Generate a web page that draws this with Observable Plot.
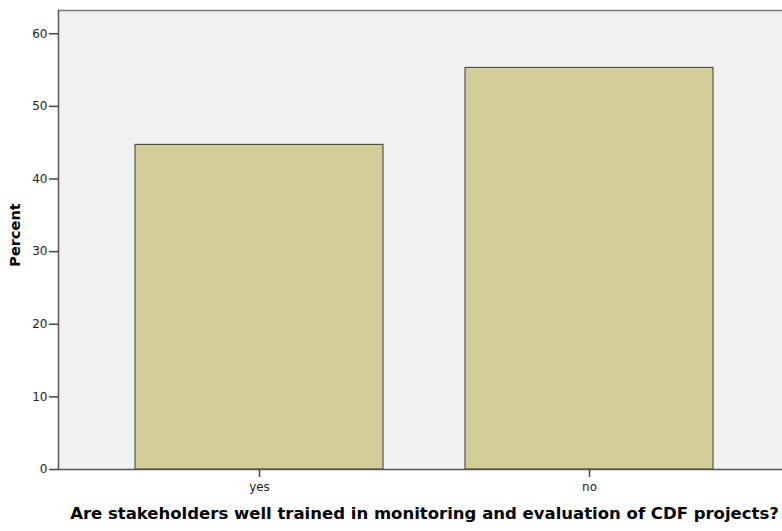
<!DOCTYPE html>
<html>
<head>
<meta charset="utf-8">
<script src="https://cdn.jsdelivr.net/npm/d3@7"></script>
<script src="https://cdn.jsdelivr.net/npm/@observablehq/plot@0.6"></script>
<style>
  html, body { margin: 0; padding: 0; background: #ffffff; overflow: hidden; }
  #chart svg { display: block; overflow: hidden; }
</style>
</head>
<body>
<div id="chart"></div>
<script>
const categories = ["yes", "no"];
const percents = [44.7, 55.3];
const yTicks = [0, 10, 20, 30, 40, 50, 60];
const yLabel = "Percent";
const xLabel = "Are stakeholders well trained in monitoring and evaluation of CDF projects?";

const data = categories.map((c, i) => ({category: c, percent: percents[i]}));
const yTop = 63.2;

const chart = Plot.plot({
  width: 782,
  height: 531,
  marginLeft: 58,
  marginRight: 0,
  marginTop: 10,
  marginBottom: 62,
  style: {fontFamily: "DejaVu Sans, Verdana, sans-serif", background: "#ffffff", overflow: "hidden"},
  x: {domain: categories, range: [58, 790], paddingInner: 0.248, paddingOuter: 0.233, axis: null},
  y: {domain: [0, yTop], axis: null},
  marks: [
    Plot.frame({fill: "#f0f0f0", stroke: null}),
    Plot.barY(data, {x: "category", y: "percent", fill: "#d3ce97", stroke: "#3a3a3a", strokeWidth: 1}),
    Plot.ruleY([yTop], {stroke: "#7a7a7a", strokeWidth: 1.5}),
    Plot.frame({anchor: "left", stroke: "#555555", strokeWidth: 1.5}),
    Plot.ruleY([0], {stroke: "#555555", strokeWidth: 1.5}),
    Plot.axisY({ticks: yTicks, tickSize: 9, tickPadding: 2, fontSize: 12, label: null, stroke: "#444", strokeWidth: 1.5, color: "#222"}),
    Plot.axisX({tickSize: 8, tickPadding: 5, fontSize: 12, label: null, stroke: "#444", strokeWidth: 1.5, color: "#222"}),
    Plot.text([yLabel], {frameAnchor: "left", textAnchor: "middle", dx: -43, dy: -5, rotate: -90, fontWeight: "bold", fontSize: 14.5, fill: "#000"}),
    Plot.text([xLabel], {frameAnchor: "bottom", dx: 4, dy: 49, fontWeight: "bold", fontSize: 16.5, fill: "#000"})
  ]
});
document.getElementById("chart").appendChild(chart);
</script>
</body>
</html>
